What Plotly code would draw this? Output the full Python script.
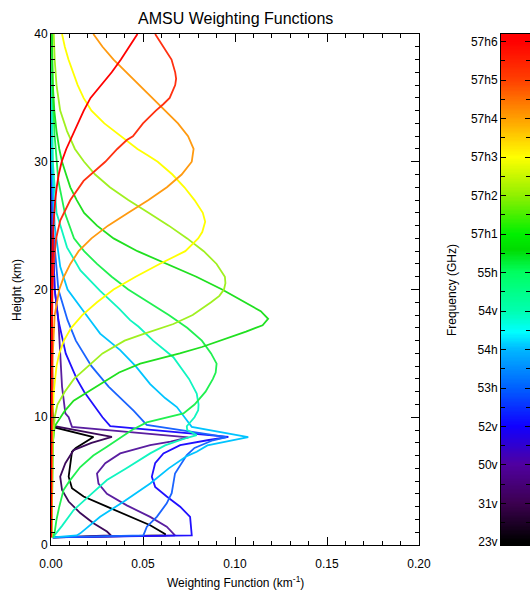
import numpy as np
import plotly.graph_objects as go

# ---------------- data ----------------
CHANNELS = ["23v", "31v", "50v", "52v", "53h", "54h", "54v", "55h",
            "57h1", "57h2", "57h3", "57h4", "57h5", "57h6"]
COLORS = ["#000000", "#3c0a5a", "#5a1ea0", "#2010ff", "#1a64ff", "#00c4ff", "#10f5c0",
          "#20f050", "#20e020", "#a0f020", "#ffff00", "#ff9a10", "#ff3010", "#ff0000"]

H_23V = [40, 25, 15, 10, 9.2, 8.45, 8.1, 7.6, 7.3, 6.4, 5.35, 4.45, 3.8, 3.0, 2.2, 1.55, 0.86, 0.75, 0.6]
W_23V = [0.0, 0.0002, 0.0005, 0.001, 0.002, 0.0231, 0.019, 0.0135, 0.0114, 0.0105, 0.0096, 0.0114,
         0.0177, 0.0304, 0.043, 0.0539, 0.062, 0.062, 0.001]

H_31V = [40, 25, 15, 10, 9.3, 8.47, 8.0, 7.43, 6.4, 5.35, 4.3, 3.4, 2.5, 1.7, 1.05, 0.75, 0.6]
W_31V = [0.0, 0.0002, 0.0005, 0.001, 0.002, 0.0331, 0.022, 0.0123, 0.0078, 0.005, 0.006, 0.0096,
         0.0159, 0.0231, 0.0304, 0.0326, 0.001]

H_50V = [40, 30, 25, 20, 17.6, 15, 12.4, 10.3, 10.0, 9.25, 8.42, 8.1, 7.82, 7.17, 6.4, 5.6, 4.8,
         4.0, 3.1, 2.2, 1.43, 0.75, 0.6]
W_50V = [0.0001, 0.0004, 0.0008, 0.002, 0.004, 0.005, 0.006, 0.0078, 0.0096, 0.0114, 0.0747, 0.065,
         0.0539, 0.0376, 0.0295, 0.025, 0.0258, 0.0304, 0.0412, 0.0539, 0.0629, 0.0674, 0.001]

H_52V = [40, 30, 25, 20, 17.6, 15, 13, 12, 11, 10, 9.3, 8.47, 8.2, 7.82, 7.17, 6.4, 5.35, 4.55,
         3.8, 3.0, 2.2, 1.17, 0.75, 0.6]
W_52V = [0.0001, 0.0004, 0.0008, 0.002, 0.004, 0.008, 0.014, 0.018, 0.023, 0.028, 0.0322, 0.0964,
         0.085, 0.0702, 0.0611, 0.0566, 0.0548, 0.0566, 0.0629, 0.0702, 0.0756, 0.0765, 0.0765, 0.001]

H_53H = [40, 30, 25, 20, 17.6, 16, 15, 14, 12.4, 11.3, 10.5, 9.4, 8.45, 8.2, 7.6, 7.04, 5.6, 4.05,
         3.26, 2.2, 1.43, 0.76, 0.6]
W_53H = [0.0001, 0.0005, 0.001, 0.004, 0.009, 0.0135, 0.0177, 0.022, 0.0313, 0.0394, 0.045, 0.052,
         0.0955, 0.088, 0.078, 0.0738, 0.0674, 0.0656, 0.0629, 0.0575, 0.0521, 0.0502, 0.001]

H_54H = [40, 30, 25, 21.8, 20, 18.6, 17.6, 16.55, 15.25, 14, 12.6, 11.5, 10.8, 9.77, 9.25, 8.45,
         8.2, 7.8, 7.3, 6.96, 6.0, 4.82, 3.39, 2.21, 0.91, 0.75, 0.6]
W_54H = [0.0001, 0.0005, 0.002, 0.005, 0.009, 0.0159, 0.0213, 0.0267, 0.0376, 0.046, 0.0539, 0.062,
         0.0684, 0.0738, 0.0765, 0.1072, 0.098, 0.085, 0.0792, 0.0738, 0.064, 0.0539, 0.0394,
         0.0267, 0.0159, 0.014, 0.001]

H_54V = [40, 30, 26, 23.3, 21.5, 19.9, 18.5, 17.6, 17.1, 16.0, 14.7, 13, 11.86, 11, 10.55, 10, 9.3,
         9.0, 8.6, 8.3, 7.8, 7.17, 6.0, 5.08, 4.0, 2.74, 1.5, 0.78, 0.6]
W_54V = [0.0002, 0.001, 0.003, 0.0087, 0.016, 0.0267, 0.037, 0.043, 0.0475, 0.0555, 0.0665, 0.075,
         0.0792, 0.0802, 0.080, 0.078, 0.0738, 0.074, 0.0792, 0.072, 0.062, 0.0539, 0.041, 0.0304,
         0.022, 0.0123, 0.006, 0.0023, 0.001]

H_55H = [40, 35, 32, 28.5, 26, 24, 23, 22, 21, 20, 19, 18, 17, 16, 15, 14.2, 13.5, 13, 12, 11,
         10.3, 9.6, 9.0, 8.5, 7.7, 7, 6.1, 5, 4.3, 3, 2, 1, 0.6]
W_55H = [0.0003, 0.001, 0.002, 0.004, 0.0075, 0.0125, 0.018, 0.025, 0.033, 0.042, 0.053, 0.064,
         0.074, 0.082, 0.087, 0.090, 0.0895, 0.088, 0.084, 0.078, 0.072, 0.052, 0.044, 0.039,
         0.0304, 0.023, 0.0159, 0.010, 0.0068, 0.0045, 0.003, 0.002, 0.001]

H_57H1 = [40, 36, 34, 32.4, 31, 30, 29, 28, 27, 26, 25, 24, 23, 22, 21, 20, 19, 18.3, 17.7, 17.2,
          16.7, 16, 15.5, 15, 14.2, 13.5, 12.6, 12, 11.3, 10.5, 10, 9.3, 8, 0.6]
W_57H1 = [0.0005, 0.001, 0.0018, 0.003, 0.0045, 0.006, 0.0082, 0.0105, 0.014, 0.018, 0.025, 0.034,
          0.047, 0.063, 0.079, 0.093, 0.105, 0.114, 0.118, 0.115, 0.106, 0.092, 0.082, 0.070,
          0.0485, 0.037, 0.0267, 0.020, 0.0123, 0.0075, 0.005, 0.002, 0.001, 0.0003]

H_57H2 = [40, 38, 36, 34, 32.4, 31, 30, 29, 28, 27, 26, 25, 24, 23, 22, 21, 20.5, 20, 19.5, 19,
          18, 17.3, 16.5, 16, 15, 14, 13, 12, 11, 10, 8, 0.6]
W_57H2 = [0.0015, 0.002, 0.003, 0.005, 0.0087, 0.013, 0.018, 0.024, 0.032, 0.042, 0.053, 0.064,
          0.074, 0.083, 0.090, 0.0945, 0.0948, 0.094, 0.0915, 0.087, 0.077, 0.0665, 0.050, 0.040,
          0.028, 0.020, 0.0125, 0.0075, 0.0035, 0.002, 0.001, 0.0003]

H_57H3 = [40, 39, 38, 37, 36, 35, 34, 33, 32, 31, 30.5, 30, 29, 28, 27, 26, 25.3, 24.5, 24, 23, 22,
          21, 20, 19, 18, 17, 16, 15, 14, 12, 10, 0.6]
W_57H3 = [0.006, 0.0075, 0.0095, 0.012, 0.0145, 0.0177, 0.022, 0.029, 0.038, 0.047, 0.0525, 0.058,
          0.066, 0.0725, 0.078, 0.0825, 0.0838, 0.0822, 0.080, 0.073, 0.059, 0.046, 0.034, 0.025,
          0.017, 0.011, 0.007, 0.0045, 0.003, 0.0015, 0.0008, 0.0002]

H_57H4 = [40, 39, 38, 37, 36, 35, 34, 33, 32, 31, 30, 29, 28, 27, 26, 25, 24, 23, 22, 21, 20, 18,
          15, 10, 0.6]
W_57H4 = [0.023, 0.028, 0.034, 0.041, 0.048, 0.055, 0.062, 0.069, 0.0745, 0.0775, 0.0765, 0.071,
          0.063, 0.053, 0.042, 0.031, 0.022, 0.015, 0.0105, 0.007, 0.0045, 0.002, 0.001, 0.0004,
          0.0001]

H_57H5 = [40, 39, 38, 37, 36.5, 36, 35, 34.5, 34, 33, 32, 31.7, 31, 30, 29.3, 28.5, 27, 26, 25.4,
          24, 22, 20, 15, 0.6]
W_57H5 = [0.0566, 0.061, 0.0655, 0.0675, 0.068, 0.0675, 0.0645, 0.061, 0.057, 0.050, 0.0445,
          0.0412, 0.036, 0.0295, 0.024, 0.0177, 0.0105, 0.007, 0.005, 0.0028, 0.0014, 0.0008,
          0.0004, 0.0001]

H_57H6 = [40, 39, 38, 37, 36, 35, 34, 33, 32, 31, 30, 29, 28, 27, 25, 22, 18, 12, 0.6]
W_57H6 = [0.047, 0.0425, 0.038, 0.033, 0.0275, 0.0215, 0.0178, 0.0145, 0.0112, 0.0083, 0.0058,
          0.0042, 0.0031, 0.0023, 0.0013, 0.0007, 0.0004, 0.0002, 0.0001]

HEIGHTS = [H_23V, H_31V, H_50V, H_52V, H_53H, H_54H, H_54V, H_55H,
           H_57H1, H_57H2, H_57H3, H_57H4, H_57H5, H_57H6]
WEIGHTS = [W_23V, W_31V, W_50V, W_52V, W_53H, W_54H, W_54V, W_55H,
           W_57H1, W_57H2, W_57H3, W_57H4, W_57H5, W_57H6]

X_TICKS = [0.0, 0.05, 0.10, 0.15, 0.20]
Y_TICKS = [0, 10, 20, 30, 40]

# colour bar scale (IDL-like rainbow)
CB_STOPS = [0, 1, 2, 3, 4, 5, 5.45, 6, 7, 7.6, 8, 9, 10, 11, 12, 13]
CB_COLORS = ["#000000", "#3c0050", "#5000a0", "#1000ff", "#0060ff", "#00b8ff", "#00ffff",
             "#00ffb0", "#00ff60", "#00dc00", "#00f000", "#90f000", "#ffff00", "#ffa000",
             "#ff4000", "#ff0000"]

# ---------------- figure ----------------
W_FIG, H_FIG = 530, 599
ML, MR, MT, MB = 51, 0, 34, 54
PW = W_FIG - ML - MR
PH = H_FIG - MT - MB


def px_x(x):
    return (x - ML) / PW


def px_y(y):
    return (H_FIG - MB - y) / PH


fig = go.Figure()

for name, h, w, c in zip(CHANNELS, HEIGHTS, WEIGHTS, COLORS):
    fig.add_trace(go.Scatter(x=w, y=h, mode="lines", name=name,
                             line=dict(color=c, width=1.8), showlegend=False,
                             xaxis="x", yaxis="y"))

# colour bar drawn as a heatmap on its own axes
cb_lo, cb_hi = -0.08, 13.2
cb_y = np.linspace(cb_lo, cb_hi, 400)
cb_z = [[v] for v in cb_y]
n = CB_STOPS[-1]
colorscale = [[s / n, c] for s, c in zip(CB_STOPS, CB_COLORS)]
fig.add_trace(go.Heatmap(z=cb_z, x=[0], y=cb_y, colorscale=colorscale, zmin=0, zmax=13,
                         showscale=False, hoverinfo="skip", xaxis="x2", yaxis="y2"))

font_family = "Liberation Sans, Arial, sans-serif"
axis_common = dict(showline=True, linecolor="#000000", linewidth=1, mirror="ticks",
                   ticks="inside", tickcolor="#000000", showgrid=False, zeroline=False,
                   automargin=False,
                   tickfont=dict(size=12, color="#000000", family=font_family))

fig.update_layout(
    width=W_FIG, height=H_FIG,
    margin=dict(l=ML, r=MR, t=MT, b=MB, autoexpand=False),
    paper_bgcolor="white", plot_bgcolor="white",
    font=dict(family=font_family, color="#000000", size=12),
    xaxis=dict(domain=[0, px_x(419)], range=[0, 0.2], tickvals=X_TICKS,
               tickformat=".2f", ticklen=8, ticklabelstandoff=8,
               minor=dict(dtick=0.01, ticklen=4, ticks="inside", tickcolor="#000000"),
               anchor="y", **axis_common),
    yaxis=dict(domain=[0, 1], range=[0, 40], tickvals=Y_TICKS, ticklen=8,
               minor=dict(dtick=1, ticklen=4, ticks="inside", tickcolor="#000000"),
               anchor="x", **axis_common),
    xaxis2=dict(domain=[px_x(501), 1], range=[-0.5, 0.5], showticklabels=False,
                showline=True, linecolor="#000000", mirror=True, ticks="",
                showgrid=False, zeroline=False, anchor="y2", automargin=False),
    yaxis2=dict(domain=[0, 1], range=[cb_lo, cb_hi], tickvals=list(range(14)),
                ticktext=CHANNELS, ticklen=5,
                minor=dict(dtick=0.5, ticklen=4, ticks="inside", tickcolor="#000000"),
                anchor="x2", **axis_common),
    showlegend=False,
)

ann_font = dict(size=12, family=font_family, color="#000000")
fig.add_annotation(text="AMSU Weighting Functions", x=px_x(235), y=px_y(19),
                   xref="paper", yref="paper", showarrow=False,
                   xanchor="center", yanchor="middle",
                   font=dict(size=16, family=font_family, color="#000000"))
fig.add_annotation(text="Weighting Function (km<sup>-1</sup>)", x=px_x(235), y=px_y(582),
                   xref="paper", yref="paper", showarrow=False,
                   xanchor="center", yanchor="middle", font=ann_font)
fig.add_annotation(text="Height (km)", x=px_x(17), y=px_y(290), textangle=-90,
                   xref="paper", yref="paper", showarrow=False,
                   xanchor="center", yanchor="middle", font=ann_font)
fig.add_annotation(text="Frequency (GHz)", x=px_x(452), y=px_y(290), textangle=-90,
                   xref="paper", yref="paper", showarrow=False,
                   xanchor="center", yanchor="middle", font=ann_font)

fig.write_html("out.html")
